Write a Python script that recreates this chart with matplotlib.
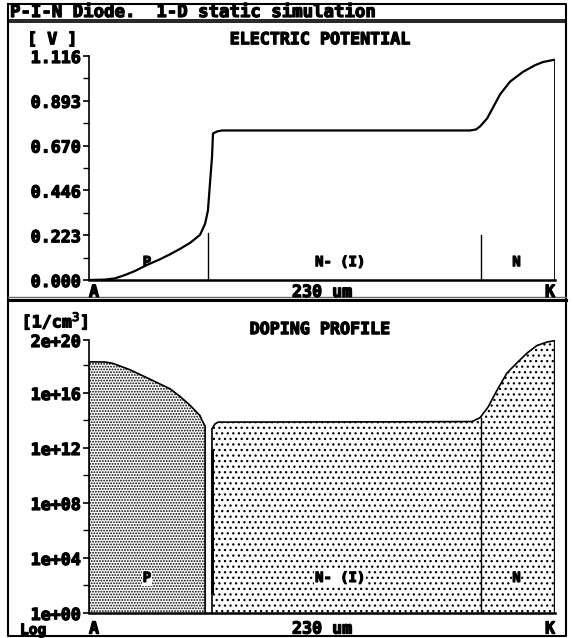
import numpy as np
import matplotlib.pyplot as plt
import matplotlib.patheffects as pe

plt.rcParams["hatch.linewidth"] = 0.9

# electric potential along the device (x in um, V in volts)
pot_x = [0, 7.9, 12.8, 17.8, 22.7, 28.6, 35.0, 40.0, 44.9, 49.9, 54.8, 57.3,
         58.7, 59.7, 60.7, 61.2, 63.2, 65.6, 150.0, 188.1, 191.0, 193.0, 196.5, 198.9,
         202.9, 207.8, 214.2, 220.1, 224.1, 229.0, 230.0]
pot_v = [0, 0.002, 0.008, 0.025, 0.045, 0.075, 0.103, 0.128, 0.155, 0.185, 0.225, 0.28,
         0.346, 0.48, 0.61, 0.73, 0.74, 0.745, 0.745, 0.745, 0.75, 0.765, 0.805, 0.85,
         0.925, 0.988, 1.037, 1.07, 1.086, 1.096, 1.097]
pot_ticks = [0.000, 0.223, 0.446, 0.670, 0.893, 1.116]

# doping profile, log10(N / cm^-3)
p_x = [0, 8.0, 11.8, 20.0, 30.1, 40.0, 44.9, 49.9, 54.8, 55.8, 57.3, 57.3]
p_log = [18.26, 18.25, 18.15, 17.7, 17.0, 16.3, 15.75, 15.1, 14.35, 14.0, 13.6, 0]
n_x = [60.7, 60.7, 62.2, 63.7, 150.0, 189.0, 193.0, 197.0, 201.4, 206.3, 211.3,
       216.2, 221.1, 226.1, 229.0, 230.0]
n_log = [0, 13.4, 13.75, 13.88, 13.9, 13.92, 14.2, 14.98, 16.2, 17.45, 18.2,
         18.9, 19.45, 19.7, 19.78, 19.8]
dop_ticks = [0, 4, 8, 12, 16, 19.85]
dop_labels = ["1e+00", "1e+04", "1e+08", "1e+12", "1e+16", "2e+20"]

# region borders
junctions = [58.7, 193.5]
junction_v = [0.232, 0.222]
junction_log = 14.2
regions = ["P", "N- (I)", "N"]
region_x = [28.6, 124.0, 211.0]
length_um = 230

FONT = "DejaVu Sans Mono"
fs = 12
bold = [pe.withStroke(linewidth=0.9, foreground="black")]


def label(ax, x, y, s, size=fs, **kw):
    t = ax.text(x, y, s, fontsize=size, fontweight="bold", family=FONT, **kw)
    t.set_path_effects(bold)
    return t


fig = plt.figure(figsize=(5.73, 6.38), dpi=100)

# frame (pixel coordinates)
frame = fig.add_axes([0, 0, 1, 1])
frame.set_xlim(0, 573)
frame.set_ylim(638, 0)
frame.axis("off")
frame.plot([7.5, 566, 566, 7.5, 7.5], [3.5, 3.5, 636, 636, 3.5], color="black", lw=1.5)
frame.plot([7.5, 566], [19.5, 19.5], color="black", lw=1.2)
frame.plot([7.5, 566], [22, 22], color="black", lw=1.2)
frame.plot([7.5, 566], [297, 297], color="0.4", lw=1)
frame.plot([7.5, 566], [300, 300], color="black", lw=2.2)
label(frame, 10, 12, "P-I-N Diode.  1-D static simulation", size=12.5, va="center", ha="left")

# ---- electric potential ----
ax1 = fig.add_axes([89 / 573, 1 - 280 / 638, 466 / 573, 224 / 638])
ax1.plot(pot_x, pot_v, color="black", lw=1.6)
ax1.plot([pot_x[-1], pot_x[-1]], [pot_v[-1], 0], color="black", lw=1.3)
for jx, jv in zip(junctions, junction_v):
    ax1.plot([jx, jx], [0, jv], color="black", lw=1)
ax1.set_xlim(0, length_um)
ax1.set_ylim(0, pot_ticks[-1])
ax1.set_yticks(pot_ticks)
ax1.set_yticklabels(["%.3f" % t for t in pot_ticks])
ax1.set_yticks([(a + b) / 2 for a, b in zip(pot_ticks[:-1], pot_ticks[1:])], minor=True)
for rx, name in zip(region_x, regions):
    label(ax1, rx, 0.089, name, size=fs - 2, ha="center", va="center")
label(ax1, 0.495, 1.075, "ELECTRIC POTENTIAL", transform=ax1.transAxes, ha="center", va="center")
label(ax1, -0.079, 1.075, "[ V ]", transform=ax1.transAxes, ha="center", va="center")

# ---- doping profile ----
ax2 = fig.add_axes([89 / 573, 1 - 613 / 638, 466 / 573, 273 / 638])
ax2.fill_between(p_x, p_log, 0, facecolor="white", edgecolor="black", hatch="......", lw=0)
ax2.fill_between(n_x, n_log, 0, facecolor="white", edgecolor="black", hatch="...", lw=0)
ax2.plot(p_x, p_log, color="black", lw=1.2)
ax2.plot(n_x, n_log, color="black", lw=1.2)
ax2.plot([n_x[0], n_x[0]], [1.5, 11.8], color="black", lw=2.2)
ax2.plot([n_x[-1], n_x[-1]], [0, n_log[-1]], color="black", lw=2.4)
ax2.plot([junctions[1], junctions[1]], [0, junction_log], color="black", lw=1)
ax2.plot([0, 0], [0, p_log[0]], color="black", lw=1.2)
ax2.set_xlim(0, length_um)
ax2.set_ylim(0, dop_ticks[-1])
ax2.set_yticks(dop_ticks)
ax2.set_yticklabels(dop_labels)
ax2.set_yticks([2, 6, 10, 14, 18], minor=True)
for rx, name in zip(region_x, regions):
    label(ax2, rx, 2.55, name, size=fs - 2, ha="center", va="center",
          bbox=dict(facecolor="white", edgecolor="none", pad=0.5))
label(ax2, 0.495, 1.04, "DOPING PROFILE", transform=ax2.transAxes, ha="center", va="center")
label(ax2, -0.073, 1.068, "[1/cm$^3$]", transform=ax2.transAxes, ha="center", va="center")
label(ax2, -0.12, -0.034, "Log", size=10.5, transform=ax2.transAxes, ha="center", va="top")

for ax, dy in ((ax1, -0.053), (ax2, -0.057)):
    ax.set_facecolor("none")
    for s in ("top", "right"):
        ax.spines[s].set_visible(False)
    ax.spines["left"].set_linewidth(1.2)
    ax.spines["bottom"].set_linewidth(1.8)
    ax.set_xticks([])
    ax.tick_params(axis="y", which="major", direction="out", length=4, width=1.2, pad=2,
                   labelsize=fs)
    ax.tick_params(axis="y", which="minor", direction="out", length=4, width=1)
    for lab in ax.get_yticklabels():
        lab.set_fontweight("bold")
        lab.set_family(FONT)
        lab.set_path_effects(bold)
    label(ax, 0.0, dy, "A", transform=ax.transAxes, ha="left", va="center")
    label(ax, 0.5, dy, "230 um", transform=ax.transAxes, ha="center", va="center")
    label(ax, 1.0, dy, "K", transform=ax.transAxes, ha="right", va="center")

fig.savefig("out.png", dpi=100)
